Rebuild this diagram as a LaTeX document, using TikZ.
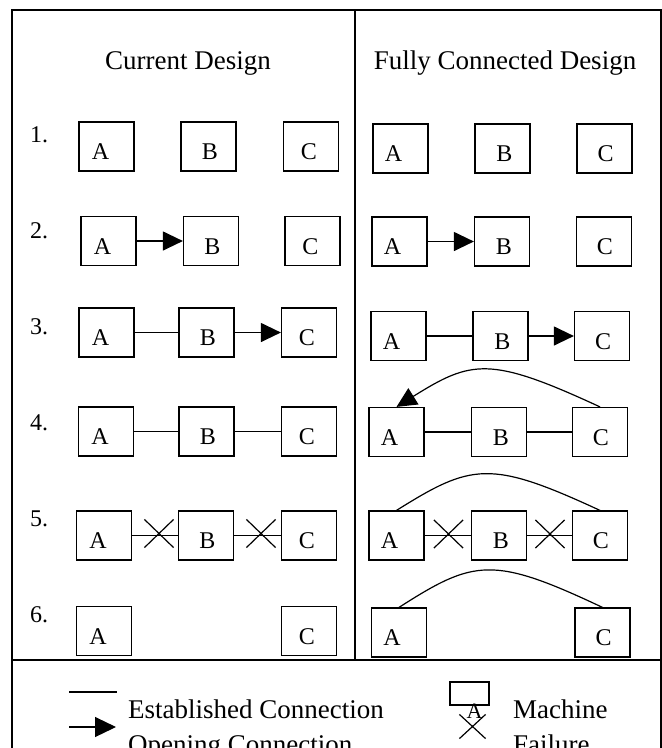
\documentclass[tikz,border=0pt]{standalone}
\usepackage{fontspec}
\setmainfont{Liberation Serif}
\usetikzlibrary{arrows.meta,shapes.misc}
% one machine: name, x, y, letter, horizontal nudge of the letter
\newcommand\mach[5]{%
  \node[mbox] (#1) at (#2,#3) {};
  \node[tag] (#1t) at ([xshift=#5pt,yshift=12pt]#1.south) {#4};}
\begin{document}
\begin{tikzpicture}[x=1pt,y=-1pt,
  outer/.style={line width=1.5pt},
  mbox/.style={draw,line width=1.2pt,minimum width=55pt,minimum height=49pt,inner sep=0pt},
  tag/.style={anchor=base,inner sep=0pt,font=\fontsize{24}{28}\selectfont},
  link/.style={line width=1.2pt},
  opening/.style={line width=1.2pt,-{Triangle[length=20pt,width=19pt]}},
  fail/.style={draw,cross out,line width=1.2pt,minimum width=28pt,minimum height=27pt,inner sep=0pt},
  colhead/.style={anchor=base,inner sep=0pt,font=\fontsize{27}{32}\selectfont},
  num/.style={anchor=base west,inner sep=0pt,font=\fontsize{24}{28}\selectfont},
  legtext/.style={anchor=base west,inner sep=0pt,font=\fontsize{27}{32}\selectfont},
]
\path[use as bounding box,clip] (0,0) rectangle (662,748);

% frame and dividers
\draw[outer] (12,10) rectangle (661,800);
\draw[outer] (355,10) -- (355,660);
\draw[outer] (12,660) -- (661,660);

% column headings
\node[colhead] (hcur) at (188,69) {Current Design};
\node[colhead] (hful) at (505,69) {Fully Connected Design};

% step numbers
\node[num] (n1) at (30,142) {1.};
\node[num] (n2) at (30,238) {2.};
\node[num] (n3) at (30,334) {3.};
\node[num] (n4) at (30,430) {4.};
\node[num] (n5) at (30,526) {5.};
\node[num] (n6) at (30,622) {6.};

% ---- current design ----
\mach{a1}{106.5}{146.5}{A}{-6}
\mach{b1}{208.5}{146.5}{B}{1.5}
\mach{c1}{311}{146.5}{C}{-2}

\mach{a2}{108.5}{241}{A}{-6}
\mach{b2}{211}{241}{B}{1.5}
\mach{c2}{312.5}{241}{C}{-2}
\draw[opening] (a2.east) -- (b2.west);

\mach{a3}{106.5}{332.5}{A}{-6}
\mach{b3}{206.5}{332.5}{B}{1.5}
\mach{c3}{309}{332.5}{C}{-2}
\draw[link] (a3.east) -- (b3.west);
\draw[opening] (b3.east) -- (c3.west);

\mach{a4}{106}{431.5}{A}{-6}
\mach{b4}{206.5}{431.5}{B}{1.5}
\mach{c4}{309}{431.5}{C}{-2}
\draw[link] (a4.east) -- (b4.west);
\draw[link] (b4.east) -- (c4.west);

\mach{a5}{104}{535.5}{A}{-6}
\mach{b5}{206}{535.5}{B}{1.5}
\mach{c5}{309}{535.5}{C}{-2}
\draw[link] (a5.east) -- (b5.west);
\draw[link] (b5.east) -- (c5.west);
\node[fail] (x5a) at (159,533.5) {};
\node[fail] (x5b) at (261,533.5) {};

\mach{a6}{104}{631}{A}{-6}
\mach{c6}{309}{631}{C}{-2}

% ---- fully connected design ----
\mach{ra1}{400.5}{148.5}{A}{-7}
\mach{rb1}{502.5}{148.5}{B}{2}
\mach{rc1}{604.5}{148.5}{C}{1}

\mach{ra2}{399.5}{241.5}{A}{-7}
\mach{rb2}{502}{241.5}{B}{2}
\mach{rc2}{604}{241.5}{C}{1}
\draw[opening] (ra2.east) -- (rb2.west);

\mach{ra3}{398.5}{336}{A}{-7}
\mach{rb3}{500.5}{336}{B}{2}
\mach{rc3}{602}{336}{C}{1}
\draw[link] (ra3.east) -- (rb3.west);
\draw[opening] (rb3.east) -- (rc3.west);

\mach{ra4}{396.5}{432}{A}{-7}
\mach{rb4}{499}{432}{B}{2}
\mach{rc4}{600}{432}{C}{1}
\draw[link] (ra4.east) -- (rb4.west);
\draw[link] (rb4.east) -- (rc4.west);
\draw[opening] (rc4.north) .. controls +(-110,-51) and +(75,-47) .. (ra4.north);

\mach{ra5}{396.5}{535.5}{A}{-7}
\mach{rb5}{499}{535.5}{B}{2}
\mach{rc5}{600}{535.5}{C}{1}
\draw[link] (ra5.east) -- (rb5.west);
\draw[link] (rb5.east) -- (rc5.west);
\node[fail] (rx5a) at (448.5,534) {};
\node[fail] (rx5b) at (550,534) {};
\draw[link] (ra5.north) .. controls +(75,-47) and +(-110,-51) .. (rc5.north);

\mach{ra6}{399}{632.5}{A}{-7}
\mach{rc6}{602.5}{632.5}{C}{1}
\draw[link] (ra6.north) .. controls +(75,-48) and +(-110,-52) .. (rc6.north);

% ---- legend ----
\coordinate (e1) at (69,692);
\coordinate (e2) at (117,692);
\draw[link] (e1) -- (e2);
\coordinate (o1) at (69,727);
\coordinate (o2) at (116,727);
\draw[line width=1.2pt,-{Triangle[length=21pt,width=20pt]}] (o1) -- (o2);
\node[legtext] (lest) at (128,718) {Established Connection};
\node[legtext] (lopn) at (128,753) {Opening Connection};

\node[draw,line width=1.2pt,minimum width=39pt,minimum height=23pt,inner sep=0pt] (lm) at (469.5,693.5) {};
\node[anchor=base,inner sep=0pt,font=\fontsize{22}{26}\selectfont] (lmt) at (474.5,718) {A};
\node[draw,cross out,line width=1.2pt,minimum width=25pt,minimum height=23pt,inner sep=0pt] (lx) at (472.5,726.5) {};
\node[legtext] (lmach) at (513,718) {Machine};
\node[legtext] (lfail) at (513,753) {Failure};
\end{tikzpicture}
\end{document}
